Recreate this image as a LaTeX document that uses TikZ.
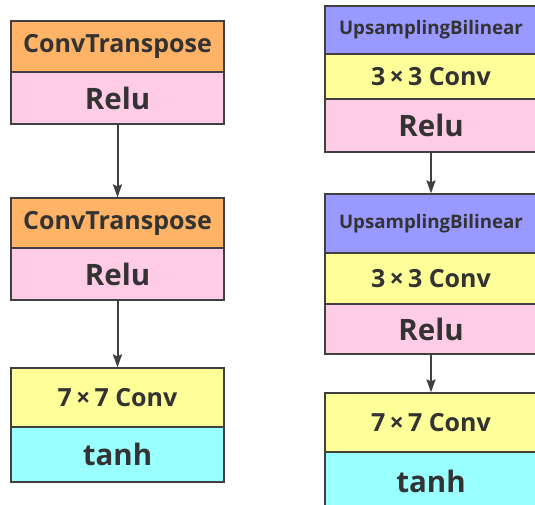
\documentclass[tikz,border=0pt]{standalone}
\usepackage{fontspec}
\setmainfont{Open Sans}
\usetikzlibrary{arrows.meta}
\definecolor{corange}{HTML}{FFB366}
\definecolor{cpink}{HTML}{FFCCE6}
\definecolor{cyellow}{HTML}{FFFF99}
\definecolor{ccyan}{HTML}{99FFFF}
\definecolor{cpurple}{HTML}{9999FF}
\definecolor{cline}{HTML}{404040}
\definecolor{ctext}{HTML}{333333}
\newcommand{\tms}{\,×\,}
\begin{document}
\begin{tikzpicture}[x=1pt,y=-1pt,
  blk/.style={draw=cline,line width=1.2pt,inner sep=0pt,text=ctext},
  lbox/.style={blk,minimum width=213pt},
  rbox/.style={blk,minimum width=212pt},
  big/.style={font=\fontsize{29.5}{33}\selectfont\bfseries},
  mid/.style={font=\fontsize{25}{29}\selectfont\bfseries},
  conv/.style={font=\fontsize{25}{29}\selectfont\bfseries},
  small/.style={font=\fontsize{18.7}{22}\selectfont\bfseries},
  conn/.style={draw=cline,line width=2pt,-{Stealth[length=13pt,width=9pt,inset=2pt]}}]
\useasboundingbox[fill=white] (0,0) rectangle (535,505);
% left column
\node[lbox,fill=corange,minimum height=51pt,mid] (a1) at (117.5,46.5) {ConvTranspose};
\node[lbox,fill=cpink,minimum height=52pt,big] (a2) at (117.5,98) {Relu};
\node[lbox,fill=corange,minimum height=50pt,mid] (a3) at (117.5,223) {ConvTranspose};
\node[lbox,fill=cpink,minimum height=52pt,big] (a4) at (117.5,274) {Relu};
\node[lbox,fill=cyellow,minimum height=59pt,conv] (a5) at (117.5,397.5) {7\tms7 Conv};
\node[lbox,fill=ccyan,minimum height=55pt,big] (a6) at (117.5,454.5) {tanh};
% right column
\node[rbox,fill=cpurple,minimum height=48pt,small] (b1) at (431,30) {UpsamplingBilinear};
\node[rbox,fill=cyellow,minimum height=45pt,conv] (b2) at (431,76.5) {3\tms3 Conv};
\node[rbox,fill=cpink,minimum height=53pt,big] (b3) at (431,125.5) {Relu};
\node[rbox,fill=cpurple,minimum height=59pt,small] (b4) at (431,223.5) {UpsamplingBilinear};
\node[rbox,fill=cyellow,minimum height=51pt,conv] (b5) at (431,278.5) {3\tms3 Conv};
\node[rbox,fill=cpink,minimum height=50pt,big] (b6) at (431,329) {Relu};
\node[rbox,fill=cyellow,minimum height=59pt,conv] (b7) at (431,422.5) {7\tms7 Conv};
\node[rbox,fill=ccyan,minimum height=58pt,big] (b8) at (431,481) {tanh};
% connectors
\draw[conn] (a2.south) -- (a3.north);
\draw[conn] (a4.south) -- (a5.north);
\draw[conn] (b3.south) -- (b4.north);
\draw[conn] (b6.south) -- (b7.north);
\end{tikzpicture}
\end{document}
